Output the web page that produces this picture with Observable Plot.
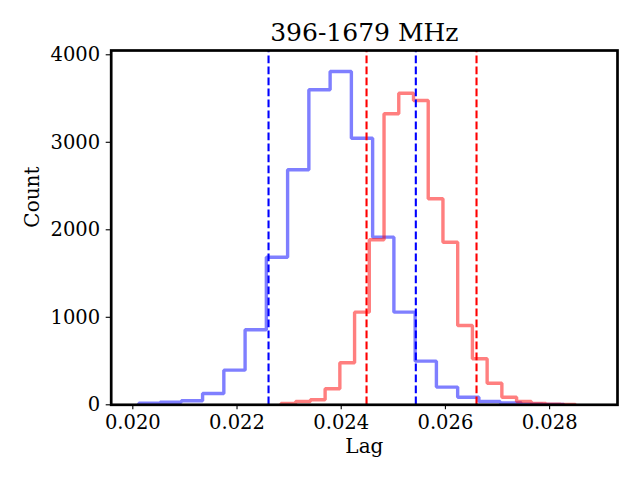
<!DOCTYPE html>
<html>
<head>
<meta charset="utf-8">
<script src="https://cdn.jsdelivr.net/npm/d3@7"></script>
<script src="https://cdn.jsdelivr.net/npm/@observablehq/plot@0.6"></script>
<style>
  html, body { margin: 0; padding: 0; background: white; }
</style>
</head>
<body>
<script>
// ---- Data ----
const titleText = "396-1679 MHz";
const xLabel = "Lag";
const yLabel = "Count";

const xTicks = [0.020, 0.022, 0.024, 0.026, 0.028];
const yTicks = [0, 1000, 2000, 3000, 4000];
const xDomain = [0.019585, 0.029303];
const yDomain = [0, 4049];

// Blue histogram (20 bins)
const blueStart = 0.020115;
const blueBinWidth = 0.000408;
const blueCounts = [18, 30, 46, 129, 396, 857, 1687, 2686, 3600, 3809,
                    3047, 1916, 1059, 499, 202, 87, 38, 20, 8, 3];

// Red histogram (20 bins)
const redStart = 0.022843;
const redBinWidth = 0.0002827;
const redCounts = [15, 38, 57, 183, 480, 1059, 1886, 3326, 3561, 3478,
                   2354, 1858, 906, 526, 247, 87, 38, 15, 8, 4];

// Dashed vertical markers
const blueLines = [0.022605, 0.025432];
const redLines = [0.024486, 0.026597];

// ---- Build step outlines from bins ----
function stepOutline(start, width, counts) {
  const pts = [{x: start, y: 0}];
  counts.forEach((c, i) => {
    pts.push({x: start + i * width, y: c});
    pts.push({x: start + (i + 1) * width, y: c});
  });
  pts.push({x: start + counts.length * width, y: 0});
  return pts;
}
const blueStep = stepOutline(blueStart, blueBinWidth, blueCounts);
const redStep = stepOutline(redStart, redBinWidth, redCounts);

const font = "DejaVu Serif";

const chart = Plot.plot({
  width: 640,
  height: 480,
  marginLeft: 110.7,
  marginRight: 23,
  marginTop: 50,
  marginBottom: 75.7,
  style: {fontFamily: font, background: "white", color: "black"},
  x: {domain: xDomain},
  y: {domain: yDomain},
  marks: [
    Plot.line(blueStep, {x: "x", y: "y", stroke: "#0000ff", strokeOpacity: 0.5,
      strokeWidth: 3.4, strokeLinejoin: "miter", strokeLinecap: "butt", clip: true}),
    Plot.line(redStep, {x: "x", y: "y", stroke: "#ff0000", strokeOpacity: 0.5,
      strokeWidth: 3.4, strokeLinejoin: "miter", strokeLinecap: "butt", clip: true}),
    Plot.ruleX(blueLines, {x: d => d, y1: yDomain[0], y2: yDomain[1], stroke: "#0000ff",
      strokeWidth: 2.1, strokeDasharray: "7.7,3.3"}),
    Plot.ruleX(redLines, {x: d => d, y1: yDomain[0], y2: yDomain[1], stroke: "#ff0000",
      strokeWidth: 2.1, strokeDasharray: "7.7,3.3"}),
    Plot.axisX({ticks: xTicks, tickFormat: d3.format(".3f"), tickSize: 5, tickPadding: 5,
      fontSize: 19.5, label: null, strokeWidth: 1.1}),
    Plot.axisY({ticks: yTicks, tickFormat: d3.format("d"), tickSize: 5, tickPadding: 6,
      fontSize: 19.5, label: null, strokeWidth: 1.1}),
    Plot.frame({stroke: "black", strokeWidth: 2.7}),
    Plot.text([titleText], {frameAnchor: "top", dy: -10, lineAnchor: "bottom",
      fontSize: 25, fill: "black", text: d => d}),
    Plot.text([xLabel], {frameAnchor: "bottom", dy: 48.5, lineAnchor: "bottom",
      fontSize: 20, fill: "black", text: d => d}),
    Plot.text([yLabel], {frameAnchor: "left", dx: -72.4, lineAnchor: "bottom",
      rotate: -90, fontSize: 20, fill: "black", text: d => d})
  ]
});
document.body.appendChild(chart);
</script>
</body>
</html>
